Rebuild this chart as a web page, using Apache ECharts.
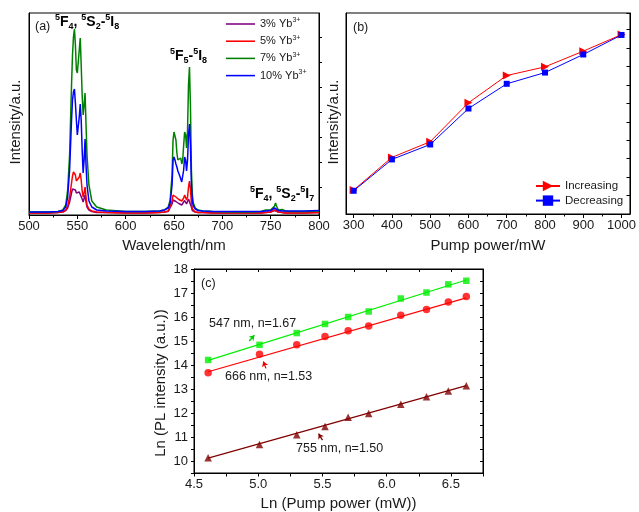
<!DOCTYPE html>
<html>
<head>
<meta charset="utf-8">
<script src="https://cdn.jsdelivr.net/npm/echarts@6/dist/echarts.min.js"></script>
<style>
html, body { margin: 0; padding: 0; background: #fff; }
#main { width: 639px; height: 512px; }
</style>
</head>
<body>
<div id="main"></div>
<script>
// (a) emission spectra, intensity in arbitrary units
var wavelength = [500, 520, 530, 535, 538, 540, 542, 544, 545, 546, 547, 548, 549, 550, 551, 552, 553, 554, 555, 556,
    557, 558, 559, 560, 562, 565, 570, 580, 600, 620, 635, 640, 644, 646, 648, 649, 650, 651, 652, 653,
    654, 655, 656, 657, 658, 659, 660, 661, 662, 663, 664, 665, 666, 667, 668, 669, 670, 672, 675, 680,
    690, 710, 730, 740, 745, 750, 752, 754, 755, 756, 758, 760, 762, 765, 770, 785, 800];
var spec3 = [2, 2, 2.5, 3, 4.5, 7, 13, 22, 26, 27.5, 27.5, 25, 22, 21.5, 21, 23, 25, 22, 16, 13,
    15, 20, 13, 8, 5, 3.5, 2.5, 2.5, 2, 2, 2.5, 3, 3.5, 5, 11, 15, 16, 15, 13.5, 12.5,
    12, 11.5, 11, 10.5, 10, 10, 12, 14.5, 14, 11, 12, 16, 18, 14, 8, 4.5, 3.5, 3, 2.5, 2.5,
    2, 2, 2, 2, 2.5, 3, 3.5, 4.5, 5, 4.5, 3, 2.5, 2.5, 2, 2, 2, 2.5];
var spec5 = [2, 2, 2.5, 3, 5, 9, 18, 32, 39, 43, 44, 40, 34, 33, 33, 38, 42, 35, 24, 18,
    22, 28, 18, 10, 6, 4, 3, 2.5, 2, 2, 2.5, 3, 4, 6, 14, 20, 21, 20, 18, 17,
    16, 15.5, 15, 14.5, 14, 14, 17, 20, 19, 15, 18, 28, 34, 26, 12, 6, 4, 3, 2.5, 2.5,
    2, 2, 2, 2, 2.5, 3, 3.5, 5, 6, 5, 3, 2.5, 2.5, 2, 2, 2, 2.5];
var spec7 = [3, 3, 3.5, 5, 10, 25, 60, 130, 160, 178, 186, 170, 145, 142, 140, 165, 177, 150, 120, 100,
    110, 122, 90, 60, 30, 14, 8, 5, 3.5, 3.5, 4, 5, 8, 15, 40, 75, 83, 83, 75, 62,
    55, 54, 53, 57, 51, 55, 70, 83, 80, 67, 85, 130, 148, 110, 45, 20, 12, 7, 5, 4,
    3.5, 3, 3, 3.5, 5, 5, 6, 9, 12, 9, 5, 5, 5.5, 4, 3.5, 3.5, 4];
var spec10 = [3, 3, 3.5, 4.5, 8, 18, 45, 95, 115, 123, 126, 112, 95, 80, 78, 98, 111, 95, 65, 42,
    55, 76, 50, 30, 14, 8, 5, 4, 3.5, 3.5, 4, 5, 7, 12, 30, 55, 58, 55, 51, 48,
    44, 42, 39, 37, 33, 32, 45, 58, 55, 44, 55, 80, 91, 70, 30, 14, 9, 6, 4.5, 4,
    3.5, 3.5, 3.5, 3.5, 4, 4.5, 5, 7, 8, 7, 4.5, 4, 4, 4, 4, 4, 4.5];
var specNames = ['3% Yb3+', '5% Yb3+', '7% Yb3+', '10% Yb3+'];
var specColors = ['#800080', '#ff0000', '#008000', '#0000ff'];
var specTicks = [27.7, 52.7, 77.7, 102.7, 127.7, 152.7, 177.7];

// (b) intensity vs pump power
var pumpPower = [300, 400, 500, 600, 700, 800, 900, 1000];
var increasing = [1.30, 3.07, 3.92, 6.03, 7.51, 7.98, 8.83, 9.73];
var decreasing = [1.26, 2.96, 3.77, 5.72, 7.06, 7.67, 8.65, 9.71];
var pumpLabels = [300, 400, 500, 600, 700, 800, 900, 1000];
var pumpMinor = [350, 450, 550, 650, 750, 850, 950];

// (c) log-log plot
var lnPower = [4.61, 5.01, 5.30, 5.52, 5.70, 5.86, 6.11, 6.31, 6.48, 6.62];
var ln547 = [14.21, 14.84, 15.33, 15.71, 16.00, 16.23, 16.77, 17.02, 17.36, 17.51];
var ln666 = [13.68, 14.45, 14.84, 15.19, 15.43, 15.62, 16.07, 16.31, 16.63, 16.85];
var ln755 = [10.14, 10.69, 11.09, 11.44, 11.82, 11.98, 12.36, 12.68, 12.92, 13.14];
var fit547 = [[4.61, 14.19], [6.62, 17.54]];
var fit666 = [[4.61, 13.72], [6.62, 16.80]];
var fit755 = [[4.61, 10.12], [6.62, 13.14]];
var arrow547 = [[4.93, 15.00], [4.97, 15.24]];
var arrow666 = [[5.06, 13.86], [5.04, 14.15]];
var arrow755 = [[5.50, 10.87], [5.47, 11.14]];

var FONT = 'Liberation Sans, Arial, sans-serif';
var INK = '#1a1a1a';

function pairs(xs, ys) {
    return xs.map(function (x, i) { return [x, ys[i]]; });
}

function frameAxis(extra) {
    var base = {
        splitLine: { show: false },
        axisLine: { show: true, onZero: false, lineStyle: { color: '#000', width: 1 } },
        axisTick: { show: false },
        axisLabel: { show: false },
        minorTick: { show: false }
    };
    return Object.assign(base, extra);
}

var tickLine = { color: '#000', width: 1 };
var labelStyle = { show: true, fontFamily: FONT, fontSize: 13, color: INK, margin: 5 };
var nameStyle = { fontFamily: FONT, fontSize: 15, color: INK };

var chart = echarts.init(document.getElementById('main'));

var specSeries = [spec3, spec5, spec7, spec10].map(function (s, i) {
    return {
        name: specNames[i],
        type: 'line',
        xAxisIndex: 0,
        yAxisIndex: 0,
        data: pairs(wavelength, s),
        symbol: 'none',
        color: specColors[i],
        lineStyle: { width: 1.5, color: specColors[i] },
        z: 2 + i
    };
});

var richLevel = {
    m: { fontFamily: FONT, fontSize: 14, fontWeight: 'bold', color: '#000', lineHeight: 18 },
    s: { fontFamily: FONT, fontSize: 9, fontWeight: 'bold', color: '#000', lineHeight: 10, verticalAlign: 'top' },
    d: { fontFamily: FONT, fontSize: 9, fontWeight: 'bold', color: '#000', lineHeight: 10, verticalAlign: 'bottom' }
};

function levelText(x, y, txt) {
    return {
        type: 'text', x: x, y: y, silent: true,
        style: { text: txt, rich: richLevel, align: 'left', verticalAlign: 'middle', textAlign: 'left', textVerticalAlign: 'middle' }
    };
}

function plainText(x, y, txt, size, rot, align) {
    return {
        type: 'text', x: x, y: y, rotation: rot || 0, silent: true,
        style: {
            text: txt, fill: INK, font: size + 'px ' + FONT,
            align: align || 'left', verticalAlign: 'middle',
            textAlign: align || 'left', textVerticalAlign: 'middle'
        }
    };
}

function arrowLine(pts, color) {
    return {
        silent: true,
        symbol: ['none', 'arrow'],
        symbolSize: 5,
        label: { show: false },
        lineStyle: { color: color, width: 1.3, type: 'solid' },
        data: [[{ coord: pts[0] }, { coord: pts[1] }]]
    };
}

var option = {
    animation: false,
    backgroundColor: '#fff',
    textStyle: { fontFamily: FONT },
    grid: [
        { left: 29, top: 13, width: 290, height: 202, show: true, borderColor: '#000', borderWidth: 1 },
        { left: 346, top: 13, width: 290, height: 201, show: true, borderColor: '#000', borderWidth: 1 },
        { left: 194, top: 269, width: 289, height: 204, show: true, borderColor: '#000', borderWidth: 1 }
    ],
    legend: [
        {
            data: specNames,
            orient: 'vertical',
            left: 226, top: 17,
            icon: 'path://M0,0 H30 V1.6 H0 Z',
            itemWidth: 29, itemHeight: 14, itemGap: 4.7,
            padding: 0,
            formatter: function (name) {
                return '{t|' + name.replace(' Yb3+', '') + ' Yb}{s|3+}';
            },
            textStyle: {
                color: INK,
                rich: {
                    t: { fontFamily: FONT, fontSize: 11, color: INK, lineHeight: 14 },
                    s: { fontFamily: FONT, fontSize: 7, color: INK, lineHeight: 8, verticalAlign: 'top' }
                }
            }
        },
        {
            data: ['Increasing', 'Decreasing'],
            orient: 'vertical',
            left: 535, top: 180,
            itemWidth: 24, itemHeight: 13, itemGap: 2.6,
            padding: 0,
            textStyle: { fontFamily: FONT, fontSize: 11.5, color: INK }
        }
    ],
    xAxis: [
        frameAxis({
            type: 'value', gridIndex: 0, position: 'bottom', min: 500, max: 800, interval: 50,
            axisTick: { show: true, inside: false, length: 4, lineStyle: tickLine },
            minorTick: { show: true, splitNumber: 2, length: 2.5, lineStyle: tickLine },
            axisLabel: labelStyle,
            name: 'Wavelength/nm', nameLocation: 'middle', nameGap: 23, nameTextStyle: nameStyle
        }),
        frameAxis({
            type: 'value', gridIndex: 1, position: 'bottom', min: 280, max: 1022,
            axisTick: { show: true, inside: false, length: 4, lineStyle: tickLine, customValues: pumpLabels },
            axisLabel: Object.assign({}, labelStyle, {
                customValues: pumpLabels,
                formatter: function (v) { return String(Math.round(v)); }
            }),
            name: 'Pump power/mW', nameLocation: 'middle', nameGap: 24, nameTextStyle: nameStyle
        }),
        frameAxis({
            type: 'value', gridIndex: 1, position: 'bottom', min: 280, max: 1022,
            axisLine: { show: false },
            axisTick: { show: true, inside: false, length: 2.5, lineStyle: tickLine, customValues: pumpMinor },
            axisLabel: { show: false }
        }),
        frameAxis({
            type: 'value', gridIndex: 2, position: 'bottom', min: 4.5, max: 6.75, interval: 0.5,
            axisTick: { show: true, inside: false, length: 3.5, lineStyle: tickLine },
            minorTick: { show: true, splitNumber: 2, length: 3.5, lineStyle: tickLine },
            axisLabel: Object.assign({}, labelStyle, {
                showMaxLabel: false,
                formatter: function (v) { return v.toFixed(1); }
            }),
            name: 'Ln (Pump power (mW))', nameLocation: 'middle', nameGap: 23, nameTextStyle: nameStyle
        }),
        frameAxis({
            type: 'value', gridIndex: 2, position: 'top', min: 4.5, max: 6.75, interval: 0.5,
            axisTick: { show: true, inside: true, length: 3, lineStyle: tickLine },
            minorTick: { show: true, splitNumber: 2, length: 3, lineStyle: tickLine }
        })
    ],
    yAxis: [
        frameAxis({ type: 'value', gridIndex: 0, position: 'left', min: 0, max: 202 }),
        frameAxis({
            type: 'value', gridIndex: 0, position: 'right', min: 0, max: 202,
            axisTick: { show: true, inside: false, length: 3, lineStyle: tickLine, customValues: specTicks }
        }),
        frameAxis({ type: 'value', gridIndex: 1, position: 'left', min: 0, max: 10.9 }),
        frameAxis({
            type: 'value', gridIndex: 1, position: 'right', min: 0, max: 10.9, interval: 1,
            axisTick: { show: true, inside: true, length: 3.5, lineStyle: tickLine }
        }),
        frameAxis({
            type: 'value', gridIndex: 2, position: 'left', min: 9.5, max: 18, interval: 0.5,
            axisTick: { show: true, inside: false, length: 3, lineStyle: tickLine },
            axisLabel: Object.assign({}, labelStyle, {
                margin: 6,
                formatter: function (v) { return Math.abs(v - Math.round(v)) < 1e-6 ? String(Math.round(v)) : ''; }
            })
        }),
        frameAxis({
            type: 'value', gridIndex: 2, position: 'right', min: 9.5, max: 18, interval: 0.5,
            axisTick: { show: true, inside: true, length: 3, lineStyle: tickLine }
        })
    ],
    series: specSeries.concat([
        {
            name: 'Increasing', type: 'line', xAxisIndex: 1, yAxisIndex: 2,
            data: pairs(pumpPower, increasing),
            symbol: 'path://M0,0 L10,5 L0,10 Z', symbolSize: [8, 8],
            color: '#ff0000', itemStyle: { color: '#ff0000' },
            lineStyle: { width: 1, color: '#ff0000' }, z: 3
        },
        {
            name: 'Decreasing', type: 'line', xAxisIndex: 1, yAxisIndex: 2,
            data: pairs(pumpPower, decreasing),
            symbol: 'rect', symbolSize: 6,
            color: '#0000ff', itemStyle: { color: '#0000ff' },
            lineStyle: { width: 1, color: '#0000ff' }, z: 4
        },
        {
            name: 'fit547', type: 'line', xAxisIndex: 3, yAxisIndex: 4, data: fit547,
            symbol: 'none', lineStyle: { width: 1.2, color: '#00ee00' },
            markLine: arrowLine(arrow547, '#00cc00')
        },
        {
            name: 'fit666', type: 'line', xAxisIndex: 3, yAxisIndex: 4, data: fit666,
            symbol: 'none', lineStyle: { width: 1.2, color: '#ff0000' },
            markLine: arrowLine(arrow666, '#ee0000')
        },
        {
            name: 'fit755', type: 'line', xAxisIndex: 3, yAxisIndex: 4, data: fit755,
            symbol: 'none', lineStyle: { width: 1.2, color: '#800000' },
            markLine: arrowLine(arrow755, '#800000')
        },
        {
            name: '547 nm', type: 'scatter', xAxisIndex: 3, yAxisIndex: 4,
            data: pairs(lnPower, ln547), symbol: 'rect', symbolSize: 6.5,
            itemStyle: { color: '#00ee00' }, z: 5
        },
        {
            name: '666 nm', type: 'scatter', xAxisIndex: 3, yAxisIndex: 4,
            data: pairs(lnPower, ln666), symbol: 'circle', symbolSize: 7.5,
            itemStyle: { color: '#ff0000' }, z: 5
        },
        {
            name: '755 nm', type: 'scatter', xAxisIndex: 3, yAxisIndex: 4,
            data: pairs(lnPower, ln755), symbol: 'triangle', symbolSize: 7.5,
            itemStyle: { color: '#800000' }, z: 5
        }
    ]),
    graphic: [
        plainText(15.5, 122, 'Intensity/a.u.', 15, Math.PI / 2, 'center'),
        plainText(334, 122, 'Intensity/a.u.', 15, Math.PI / 2, 'center'),
        plainText(161, 383, 'Ln (PL intensity (a.u.))', 15, Math.PI / 2, 'center'),
        plainText(35, 27, '(a)', 12.5),
        plainText(353, 28, '(b)', 12.5),
        plainText(201, 284, '(c)', 12.5),
        levelText(55, 22, '{s|5}{m|F}{d|4}{m|, }{s|5}{m|S}{d|2}{m|-}{s|5}{m|I}{d|8}'),
        levelText(170, 56, '{s|5}{m|F}{d|5}{m|-}{s|5}{m|I}{d|8}'),
        levelText(250, 194, '{s|5}{m|F}{d|4}{m|, }{s|5}{m|S}{d|2}{m|-}{s|5}{m|I}{d|7}'),
        plainText(209, 324, '547 nm, n=1.67', 12.5),
        plainText(225, 377, '666 nm, n=1.53', 12.5),
        plainText(296, 449, '755 nm, n=1.50', 12.5)
    ]
};

chart.setOption(option);
</script>
</body>
</html>
